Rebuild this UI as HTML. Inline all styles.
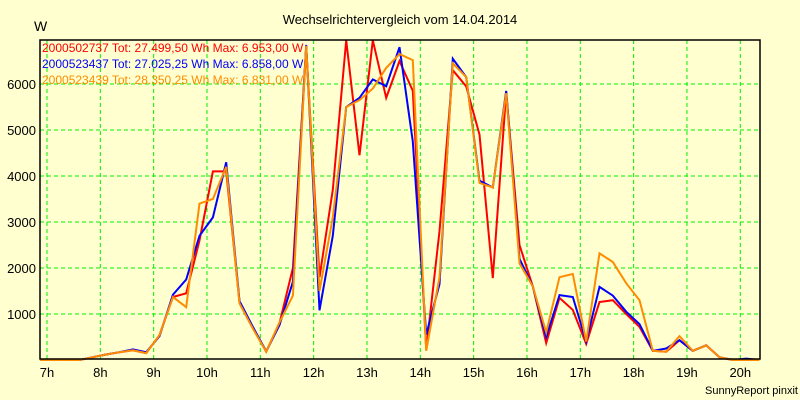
<!DOCTYPE html>
<html><head><meta charset="utf-8"><style>
body{margin:0;background:#ffffd0;}
svg{display:block;font-family:"Liberation Sans",Arial,sans-serif;}
</style></head><body>
<svg id="chart" width="800" height="400">
<rect x="0" y="0" width="800" height="400" fill="#ffffd0"/>
<text x="400" y="24" font-size="13" text-anchor="middle">Wechselrichtervergleich vom 14.04.2014</text>
<text x="34" y="31" font-size="14">W</text>
<g id="grid"></g>
<g id="series"></g>
<rect x="40" y="40" width="720" height="319" fill="none" stroke="#000" stroke-width="1.5"/>
<g id="labels"></g>
<text x="42" y="52" font-size="12" fill="#ff0000">2000502737 Tot: 27.499,50 Wh Max: 6.953,00 W</text>
<text x="42" y="68" font-size="12" fill="#0000ff">2000523437 Tot: 27.025,25 Wh Max: 6.858,00 W</text>
<text x="42" y="84" font-size="12" fill="#ff8c00">2000523439 Tot: 28.350,25 Wh Max: 6.831,00 W</text>
<text x="798" y="394" font-size="11" text-anchor="end">SunnyReport pinxit</text>
</svg>
<script>
const hourTicks=[7,8,9,10,11,12,13,14,15,16,17,18,19,20];
const valueTicks=[1000,2000,3000,4000,5000,6000];
const startHour=6.86;
const stepHours=0.25;
const red=[0,0,0,0,60,120,170,210,150,540,1370,1450,2600,4100,4100,1250,700,180,800,2000,6800,1800,3700,6950,4450,6950,5700,6500,5850,230,2800,6300,5950,4900,1780,5820,2500,1600,370,1350,1090,350,1260,1300,1000,720,200,180,430,200,320,60,0,0,0];
const blue=[0,0,0,0,60,120,170,230,170,520,1420,1750,2700,3100,4300,1280,720,190,760,1700,6850,1080,2700,5500,5700,6100,5950,6800,4750,550,1650,6550,6150,3900,3750,5850,2200,1600,500,1410,1370,400,1590,1400,1050,780,200,250,430,200,320,60,0,30,0];
const orange=[0,0,0,0,60,120,170,210,150,540,1370,1150,3400,3500,4200,1230,680,180,820,1400,6830,1500,3100,5500,5650,5900,6350,6650,6520,200,1800,6450,6150,3850,3750,5800,2100,1600,600,1800,1870,400,2320,2130,1670,1300,200,180,520,200,320,60,0,0,0];
const NS="http://www.w3.org/2000/svg";
function xScale(h){return 47+(h-7)*53.33;}
function yScale(v){return 360-v*0.046;}
const grid=document.getElementById('grid');
const labels=document.getElementById('labels');
hourTicks.forEach(h=>{
  const l=document.createElementNS(NS,'line');
  
  
  l.setAttribute('x1',xScale(h));l.setAttribute('x2',xScale(h));
  l.setAttribute('y1',40);l.setAttribute('y2',359);
  l.setAttribute('stroke','#00f000');l.setAttribute('stroke-dasharray','4,3');
  grid.appendChild(l);
  const t=document.createElementNS(NS,'text');
  
  
  t.setAttribute('x',xScale(h));t.setAttribute('y',377);
  t.setAttribute('font-size','13');t.setAttribute('text-anchor','middle');
  t.textContent=h+'h';
  labels.appendChild(t);
});
valueTicks.forEach(v=>{
  const l=document.createElementNS(NS,'line');
  
  
  l.setAttribute('x1',40);l.setAttribute('x2',760);
  l.setAttribute('y1',yScale(v));l.setAttribute('y2',yScale(v));
  l.setAttribute('stroke','#00f000');l.setAttribute('stroke-dasharray','4,3');
  grid.appendChild(l);
  const t=document.createElementNS(NS,'text');
  
  
  t.setAttribute('x',36);t.setAttribute('y',yScale(v)+5);
  t.setAttribute('font-size','13');t.setAttribute('text-anchor','end');
  t.textContent=v;
  labels.appendChild(t);
});
const seriesG=document.getElementById('series');
[[red,'#ff0000','series-2000502737'],[blue,'#0000ff','series-2000523437'],[orange,'#ff8c00','series-2000523439']].forEach(([vals,col,name])=>{
  const p=document.createElementNS(NS,'polyline');
  
  
  p.setAttribute('points',vals.map((v,i)=>Math.max(40,xScale(startHour+i*stepHours)).toFixed(1)+','+yScale(v).toFixed(1)).join(' '));
  p.setAttribute('fill','none');p.setAttribute('stroke',col);p.setAttribute('stroke-width','2');
  seriesG.appendChild(p);
});
</script>
</body></html>
